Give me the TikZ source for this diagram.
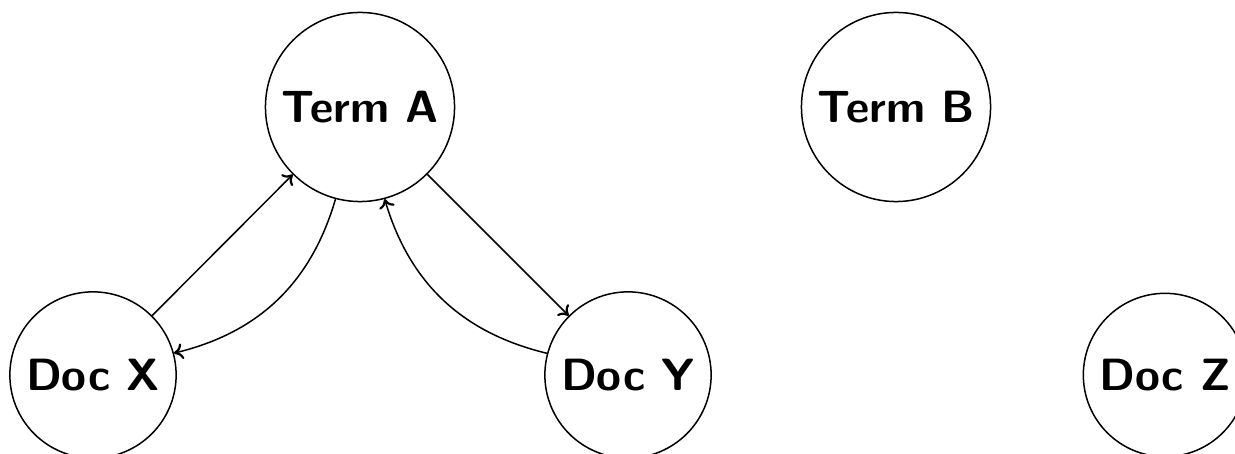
\documentclass[tikz,border=0pt]{standalone}
\usepackage{fontspec}
\usetikzlibrary{arrows.meta}
\begin{document}
\begin{tikzpicture}[x=0.5pt,y=-0.5pt,
  term/.style={draw,circle,line width=0.75pt,inner sep=5.8pt,
    font=\fontsize{22.6}{27}\selectfont\sffamily\bfseries},
  arr/.style={line width=0.75pt,-{To[length=4.5pt,width=8pt,line width=1.1pt]}}]
\useasboundingbox (0,0) rectangle (1235,454);
\node[term] (A) at (360,107) {Term A};
\node[term] (B) at (896,107) {Term B};
\node[term] (X) at (93,375) {Doc X};
\node[term] (Y) at (628,375) {Doc Y};
\node[term] (Z) at (1165,375) {Doc Z};
\draw[arr] (X) -- (A);
\draw[arr] (A) to[bend left=30] (X);
\draw[arr] (A) -- (Y);
\draw[arr] (Y) to[bend left=30] (A);
\end{tikzpicture}
\end{document}
